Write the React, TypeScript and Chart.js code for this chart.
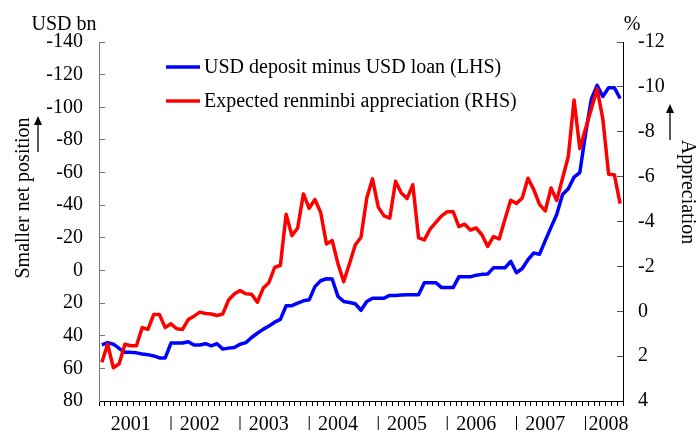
import React, { useEffect, useRef } from 'react';
import { Chart, registerables } from 'chart.js';

Chart.register(...registerables);

// ---- data ----
const YEARS: number[] = [2001, 2002, 2003, 2004, 2005, 2006, 2007, 2008];
const MONTHS: string[] = ['Jan', 'Feb', 'Mar', 'Apr', 'May', 'Jun', 'Jul', 'Aug', 'Sep', 'Oct', 'Nov', 'Dec'];
const LAST_MONTH_2008 = 7; // data run to Jul 2008

const YEAR_LABELS: string[] = ['2001', '2002', '2003', '2004', '2005', '2006', '2007', '2008'];

const CATEGORIES: string[] = YEARS.flatMap((y) =>
  MONTHS.slice(0, y === 2008 ? LAST_MONTH_2008 : 12).map((m) => `${m} ${y}`)
);

const DEPOSIT_LABEL = 'USD deposit minus USD loan (LHS)';
const APPRECIATION_LABEL = 'Expected renminbi appreciation (RHS)';

// USD bn (left axis, reversed)
const DEPOSIT_MINUS_LOAN: number[] = [
  45.6, 44.2, 45.2, 47.8, 50.2, 50.2, 50.5, 51.2, 51.6, 52.4, 53.6, 53.6,
  44.5, 44.5, 44.5, 43.7, 45.7, 45.7, 44.9, 46.2, 44.9, 48.2, 47.6, 47.2,
  45.2, 44.2, 41.1, 38.5, 36.1, 34.1, 31.7, 30.0, 21.6, 21.6, 20.0, 18.6,
  18.0, 9.9, 6.3, 5.1, 5.3, 15.9, 19.0, 19.6, 20.4, 24.4, 19.0, 17.0,
  17.0, 17.0, 15.3, 15.3, 15.1, 14.9, 14.9, 14.9, 7.5, 7.5, 7.5, 10.5,
  10.5, 10.5, 3.9, 3.9, 3.9, 2.9, 2.4, 2.2, -1.6, -1.6, -1.6, -5.6,
  1.4, -1.2, -6.6, -10.7, -9.9, -18.3, -26.4, -34.4, -46.5, -50.1, -57.2, -60.0,
  -83.8, -104.9, -113.4, -106.6, -112.0, -112.0, -105.4,
];

// % (right axis, reversed)
const EXPECTED_APPRECIATION: number[] = [
  2.27, 1.47, 2.52, 2.34, 1.47, 1.54, 1.54, 0.73, 0.81, 0.15, 0.15, 0.73,
  0.56, 0.78, 0.81, 0.37, 0.22, 0.04, 0.1, 0.12, 0.19, 0.12, -0.5, -0.77,
  -0.92, -0.78, -0.76, -0.4, -1.02, -1.27, -1.95, -2.05, -4.32, -3.37, -3.71, -5.23,
  -4.59, -4.98, -4.4, -3.0, -3.15, -2.12, -1.32, -2.12, -2.95, -3.3, -5.05, -5.9,
  -4.64, -4.25, -4.15, -5.79, -5.27, -5.02, -5.64, -3.27, -3.18, -3.66, -3.96, -4.25,
  -4.44, -4.44, -3.77, -3.88, -3.62, -3.71, -3.41, -2.89, -3.33, -3.22, -4.1, -4.95,
  -4.8, -5.05, -5.93, -5.42, -4.76, -4.47, -5.49, -4.94, -5.93, -6.89, -9.42, -7.25,
  -8.13, -9.01, -9.92, -8.57, -6.11, -6.08, -4.8,
];

const LEFT_UNIT = 'USD bn';
const RIGHT_UNIT = '%';
const LEFT_TITLE = 'Smaller net position';
const RIGHT_TITLE = 'Appreciation';

const LEFT_MIN = -140;
const LEFT_MAX = 80;
const LEFT_STEP = 20;
const RIGHT_MIN = -12;
const RIGHT_MAX = 4;
const RIGHT_STEP = 2;

// ---- styles ----
const FONT = '"Liberation Serif", "Times New Roman", serif';
const FONT_SIZE = 20;
const BLUE = '#0000FF';
const RED = '#FF0000';

function xTickLabel(i: number): string {
  const yearIdx = Math.floor(i / 12);
  const m = i % 12;
  if (m === 0 && i > 0) return '|';
  const isLastYear = yearIdx === YEARS.length - 1;
  if (!isLastYear && m === 5) return YEAR_LABELS[yearIdx];
  if (isLastYear && m === 4) return YEAR_LABELS[yearIdx];
  return '';
}

function drawArrowUp(ctx: CanvasRenderingContext2D, x: number, tipY: number, tailY: number) {
  ctx.beginPath();
  ctx.moveTo(x, tailY);
  ctx.lineTo(x, tipY + 6);
  ctx.lineWidth = 1.3;
  ctx.strokeStyle = '#000';
  ctx.stroke();
  ctx.beginPath();
  ctx.moveTo(x, tipY);
  ctx.lineTo(x - 4, tipY + 9);
  ctx.lineTo(x + 4, tipY + 9);
  ctx.closePath();
  ctx.fillStyle = '#000';
  ctx.fill();
}

const annotationPlugin = {
  id: 'annotationPlugin',
  afterDraw(chart: any) {
    const ctx: CanvasRenderingContext2D = chart.ctx;
    const { left, top, right } = chart.chartArea;
    ctx.save();
    ctx.font = `${FONT_SIZE}px ${FONT}`;
    ctx.fillStyle = '#000';

    // units
    ctx.textAlign = 'center';
    ctx.textBaseline = 'alphabetic';
    ctx.fillText(LEFT_UNIT, left - 35, top - 12);
    ctx.fillText(RIGHT_UNIT, right + 9, top - 12);

    // legend inside plot
    const items = chart.data.datasets.map((d: any) => ({ label: d.label, color: d.borderColor }));
    const lx0 = left + 67;
    const lx1 = left + 101;
    items.forEach((it: any, k: number) => {
      const y = top + 25 + k * 34;
      ctx.beginPath();
      ctx.moveTo(lx0, y);
      ctx.lineTo(lx1, y);
      ctx.strokeStyle = it.color;
      ctx.lineWidth = 3.5;
      ctx.stroke();
      ctx.fillStyle = '#000';
      ctx.textAlign = 'left';
      ctx.textBaseline = 'middle';
      ctx.fillText(it.label, lx1 + 4, y + 1);
    });

    // left rotated title
    ctx.save();
    ctx.translate(29, 198);
    ctx.rotate(-Math.PI / 2);
    ctx.textAlign = 'center';
    ctx.textBaseline = 'alphabetic';
    ctx.fillStyle = '#000';
    ctx.fillText(LEFT_TITLE, 0, 0);
    ctx.restore();
    drawArrowUp(ctx, 38, 116, 152);

    // right rotated title
    ctx.save();
    ctx.translate(682, 192);
    ctx.rotate(Math.PI / 2);
    ctx.textAlign = 'center';
    ctx.textBaseline = 'alphabetic';
    ctx.fillStyle = '#000';
    ctx.fillText(RIGHT_TITLE, 0, 0);
    ctx.restore();
    drawArrowUp(ctx, 670, 104, 140);

    ctx.restore();
  },
};

export default function App() {
  const canvasRef = useRef<HTMLCanvasElement | null>(null);

  useEffect(() => {
    document.body.style.margin = '0';
    const canvas = canvasRef.current;
    if (!canvas) return;
    const tickFont = { family: FONT, size: FONT_SIZE };
    const chart = new Chart(canvas, {
      type: 'line',
      data: {
        labels: CATEGORIES,
        datasets: [
          {
            label: DEPOSIT_LABEL,
            data: DEPOSIT_MINUS_LOAN,
            yAxisID: 'yL',
            borderColor: BLUE,
            backgroundColor: BLUE,
            borderWidth: 3.5,
            pointRadius: 0,
            tension: 0,
            fill: false,
            borderJoinStyle: 'round',
            order: 1,
          },
          {
            label: APPRECIATION_LABEL,
            data: EXPECTED_APPRECIATION,
            yAxisID: 'yR',
            borderColor: RED,
            backgroundColor: RED,
            borderWidth: 3.5,
            pointRadius: 0,
            tension: 0,
            fill: false,
            borderJoinStyle: 'round',
            order: 0,
          },
        ],
      },
      options: {
        responsive: false,
        maintainAspectRatio: false,
        animation: false,
        devicePixelRatio: 1,
        layout: { padding: { top: 42, left: 0, right: 0, bottom: 0 } },
        plugins: {
          legend: { display: false },
          tooltip: { enabled: false },
          title: { display: false },
        },
        scales: {
          x: {
            type: 'category',
            offset: true,
            grid: {
              display: true,
              drawOnChartArea: false,
              drawTicks: true,
              tickLength: 5,
              offset: true,
              color: '#000',
            },
            border: { display: true, color: '#000', width: 1 },
            ticks: {
              autoSkip: false,
              maxRotation: 0,
              minRotation: 0,
              padding: 7,
              color: '#000',
              font: tickFont,
              callback: (_v: any, i: number) => xTickLabel(i),
            },
            afterFit: (s: any) => {
              s.height = 29;
            },
          },
          yL: {
            type: 'linear',
            position: 'left',
            reverse: true,
            min: LEFT_MIN,
            max: LEFT_MAX,
            grid: { drawOnChartArea: false, drawTicks: true, tickLength: -6, color: '#777' },
            border: { display: true, color: '#777', width: 1 },
            ticks: { stepSize: LEFT_STEP, padding: 22, color: '#000', font: tickFont },
            afterFit: (s: any) => {
              s.width = 99;
            },
          },
          yR: {
            type: 'linear',
            position: 'right',
            reverse: true,
            min: RIGHT_MIN,
            max: RIGHT_MAX,
            grid: { drawOnChartArea: false, drawTicks: true, tickLength: -6, color: '#555' },
            border: { display: true, color: '#000', width: 1 },
            ticks: { stepSize: RIGHT_STEP, padding: 21, color: '#000', font: tickFont },
            afterFit: (s: any) => {
              s.width = 73;
            },
          },
        },
      } as any,
      plugins: [annotationPlugin],
    });
    return () => chart.destroy();
  }, []);

  return (
    <div style={{ width: 696, height: 435, background: '#fff', overflow: 'hidden' }}>
      <canvas ref={canvasRef} width={696} height={435} style={{ display: 'block', width: 696, height: 435 }} />
    </div>
  );
}
